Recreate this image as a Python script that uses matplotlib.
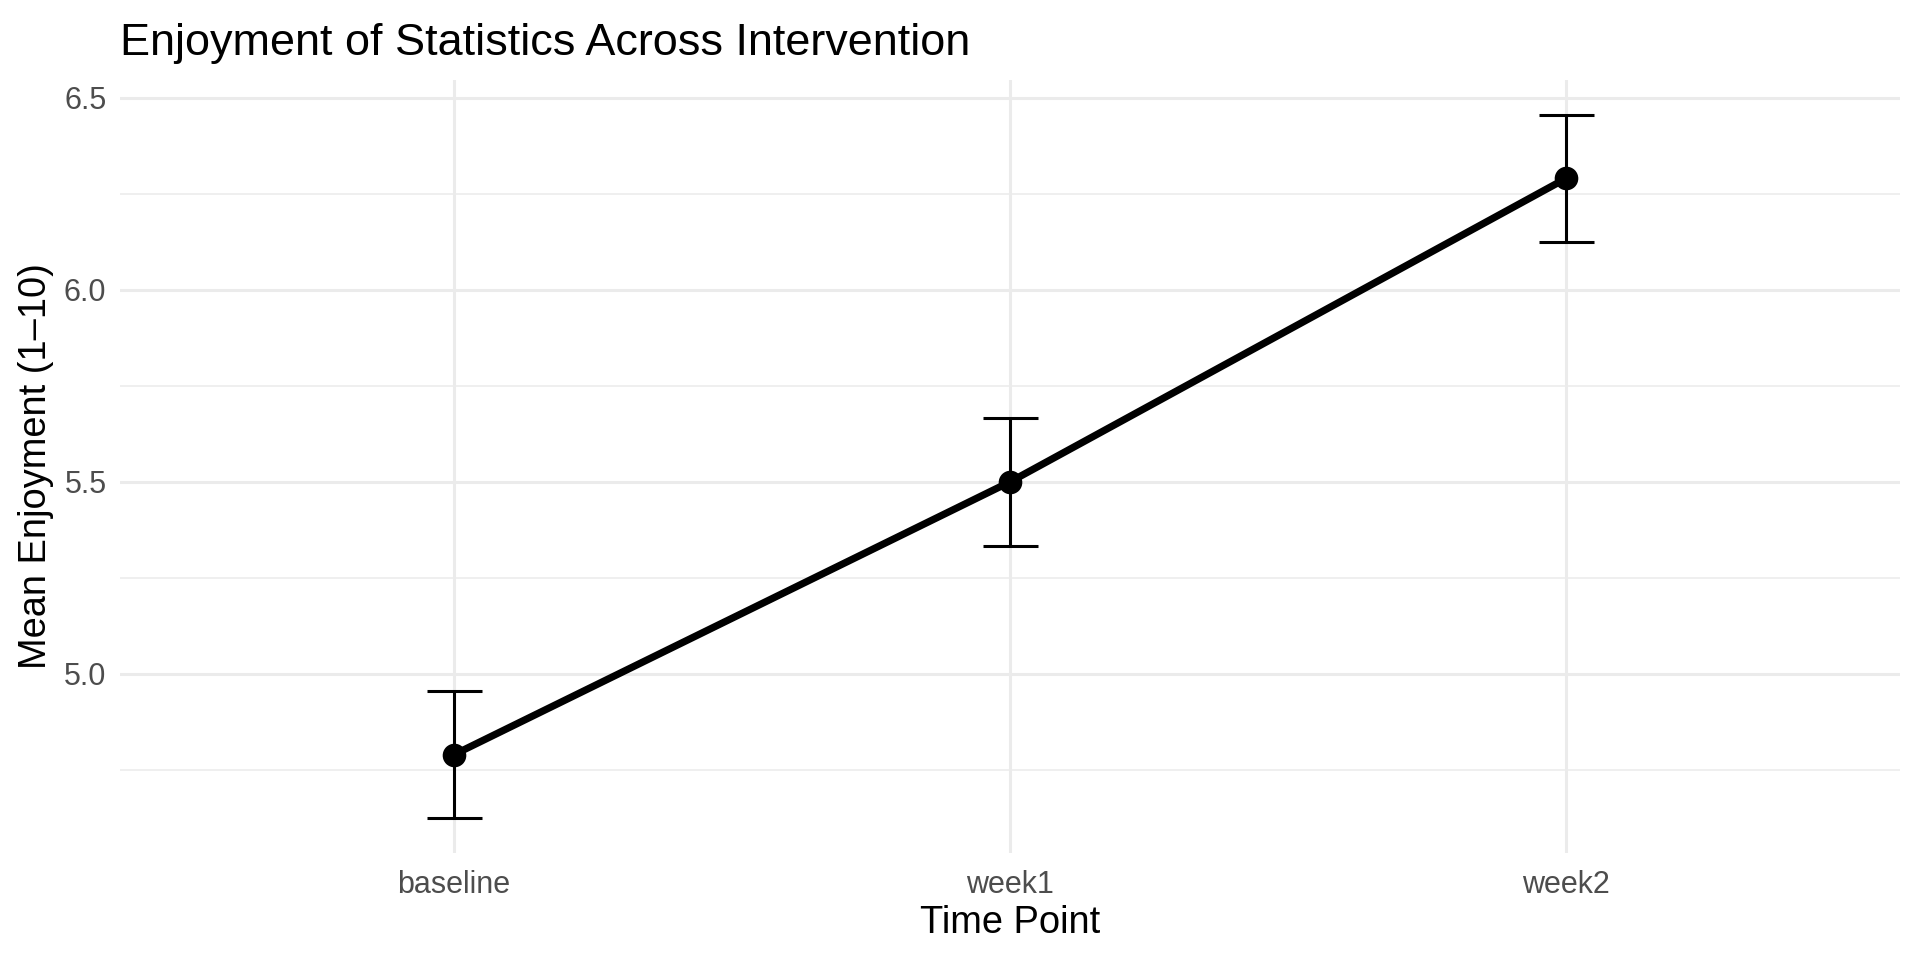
import matplotlib.pyplot as plt
import numpy as np

plt.rcParams['font.family'] = ['Liberation Sans', 'DejaVu Sans']

# datos
time_points = ['baseline', 'week1', 'week2']
mean_enjoy = [4.79, 5.50, 6.29]
se_enjoy = [0.165, 0.166, 0.165]

fig = plt.figure(figsize=(9.6, 4.8), dpi=200)
ax = fig.add_axes([0.0627, 0.1113, 0.9269, 0.8057])

x = np.arange(len(time_points))

# lineas y puntos
ax.plot(x, mean_enjoy, color='black', linewidth=2.6, zorder=3)
ax.errorbar(x, mean_enjoy, yerr=se_enjoy, fmt='none', ecolor='black',
            elinewidth=1.1, capsize=9.9, capthick=1.1, zorder=4)
ax.plot(x, mean_enjoy, 'o', color='black', markersize=7.5, zorder=5)

# ejes estilo theme_minimal
ax.set_xlim(-0.6, 2.6)
lo = min(m - s for m, s in zip(mean_enjoy, se_enjoy))
hi = max(m + s for m, s in zip(mean_enjoy, se_enjoy))
pad = (hi - lo) * 0.05
ax.set_ylim(lo - pad, hi + pad)

ax.set_xticks(x)
ax.set_xticklabels(time_points)
ax.set_yticks([5.0, 5.5, 6.0, 6.5])
ax.set_yticklabels(['5.0', '5.5', '6.0', '6.5'])
ax.set_yticks([4.75, 5.25, 5.75, 6.25], minor=True)

for s in ax.spines.values():
    s.set_visible(False)
ax.tick_params(axis='both', which='both', length=0, labelsize=11, labelcolor='#4D4D4D')
ax.tick_params(axis='x', pad=6)
ax.tick_params(axis='y', pad=5)

ax.grid(which='major', color='#EBEBEB', linewidth=1.1)
ax.grid(which='minor', axis='y', color='#EBEBEB', linewidth=0.55)
ax.set_axisbelow(True)

ax.set_xlabel('Time Point', fontsize=13.7, labelpad=2)
ax.set_ylabel('Mean Enjoyment (1\u201310)', fontsize=13.7, labelpad=3.5)
ax.set_title('Enjoyment of Statistics Across Intervention', fontsize=16.2,
             loc='left', pad=9)

fig.savefig('out.png', dpi=200, facecolor='white')
